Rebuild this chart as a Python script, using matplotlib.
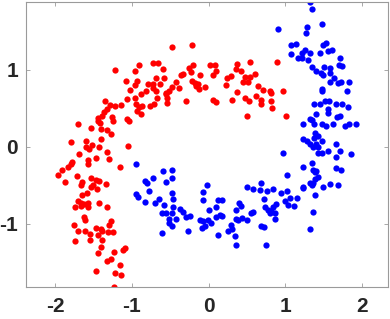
import matplotlib
matplotlib.use("Agg")
import matplotlib.pyplot as plt

# class 1 (red, left/upper moon)
red_x = [-0.72, -0.66, -0.91, -1.22, -0.96, -0.69, -1.08, -0.94, -0.79, -0.72,
         -0.73, -0.68, -0.96, -1.03, -0.82, -0.88, -0.67, -1.07, -0.96, -0.71,
         -0.77, -0.87, -1.35, -0.95, -0.91, -0.94, -1.14, -1.22, -1.29, -1.33,
         -1.37, -1.39, -1.44, -1.26, -1.25, -1.07, -1.04, -0.88, -1.44, -1.42,
         -1.71, -1.54, -1.41, -1.33, -1.28, -1.41, -1.80, -1.60, -1.52, -1.60,
         -1.56, -1.43, -1.05,
         -1.32, -1.69, -1.57, -1.47, -1.30, -1.78, -1.80, -1.57, -1.91, -1.84,
         -1.97, -1.72, -1.87, -1.65, -1.67, -1.53, -1.47, -1.43, -1.51, -1.54,
         -1.46, -1.34, -1.16, -1.59, -1.65, -1.70, -1.66, -1.63, -1.57, -1.58,
         -1.67, -1.75, -1.43, -1.32, -1.63, -1.62, -1.76, -1.71, -1.61, -1.55,
         -1.47, -1.41, -1.44, -1.39, -1.31, -1.27, -1.30, -1.25, -1.74, -1.55,
         -1.39, -1.41, -1.44, -1.23, -1.12, -1.09, -1.28, -1.32, -1.15, -1.47,
         -1.22, -1.14, -1.23,
         -0.48, -0.22, -0.59, -0.58, -0.64, -0.33, -0.36, -0.25, -0.20, -0.23,
         -0.11, -0.22, -0.18, -0.14, -0.13, -0.16, -0.42, -0.48, -0.52, -0.56,
         -0.55, -0.38, -0.54, -0.54, -0.29, -0.04, 0.02, 0.09, 0.10, 0.06,
         0.06, 0.10, 0.24, 0.29, 0.23, 0.37, 0.36, 0.43, 0.54, 0.47,
         0.54, 0.45, 0.52, 0.61, 0.37, 0.31, 0.48, 0.53, 0.65, 0.62,
         0.50,
         0.89, 0.71, 0.80, 0.82, 0.97, 0.68, 0.81, 0.69, 0.83, 1.01]
red_y = [1.09, 1.09, 1.06, 1.00, 0.99, 0.90, 0.86, 0.86, 0.82, 0.82,
         0.76, 0.72, 0.80, 0.74, 0.73, 0.69, 0.63, 0.62, 0.63, 0.56,
         0.53, 0.53, 0.60, 0.56, 0.52, 0.47, 0.54, 0.53, 0.54, 0.49,
         0.45, 0.40, 0.38, 0.39, 0.34, 0.36, 0.33, 0.43, 0.33, 0.31,
         0.30, 0.24, 0.23, 0.22, 0.17, 0.10, 0.06, 0.08, 0.02, 0.00,
         -0.03, -0.01, 0.01,
         -0.07, -0.10, -0.17, -0.15, -0.16, -0.20, -0.23, -0.23, -0.30, -0.26,
         -0.37, -0.38, -0.46, -0.46, -0.50, -0.41, -0.43, -0.45, -0.50, -0.52,
         -0.55, -0.48, -0.27, -0.60, -0.63, -0.71, -0.73, -0.75, -0.73, -0.79,
         -0.77, -0.79, -0.73, -0.79, -0.91, -0.96, -1.02, -1.10, -1.10, -1.13,
         -1.06, -1.07, -1.15, -1.10, -1.11, -0.97, -1.02, -1.11, -1.23, -1.22,
         -1.22, -1.31, -1.39, -1.37, -1.34, -1.32, -1.46, -1.49, -1.54, -1.62,
         -1.64, -1.67, -1.83,
         1.30, 1.32, 1.01, 0.90, 0.82, 0.95, 0.93, 1.03, 1.06, 0.97,
         0.94, 0.85, 0.83, 0.81, 0.75, 0.79, 0.84, 0.78, 0.73, 0.70,
         0.68, 0.76, 0.64, 0.57, 0.59, 0.78, 1.07, 1.06, 0.98, 0.93,
         0.61, 0.58, 0.90, 0.92, 0.80, 1.08, 1.01, 0.99, 1.10, 0.91,
         0.91, 0.84, 0.84, 0.95, 0.71, 0.61, 0.63, 0.59, 0.79, 0.66,
         0.40,
         1.10, 0.74, 0.73, 0.70, 0.72, 0.61, 0.60, 0.55, 0.51, 0.40]

# class 2 (blue, right/lower moon)
blue_x = [-0.95, -0.83, -0.81, -0.72, -0.78, -0.95, -0.92, -0.83, -0.70, -0.65,
          -0.60, -0.48, -0.56, -0.48, -0.48, -0.46, -0.58, -0.46, -0.61, -0.55,
          -0.48, -0.51, -0.52, -0.48, -0.42, -0.37, -0.33, -0.30, -0.24, -0.61,
          -0.27, -0.11, -0.07, -0.08, -0.04, -0.07, -0.02, -0.07, 0.00, 0.10,
          0.13, 0.17, -0.01, 0.03, 0.10, 0.15, 0.18, 0.13, 0.25, 0.31,
          0.30, 0.35, 0.36, 0.36, 0.40, 0.42, 0.36, 0.39, 0.44, 0.50,
          0.50, 0.58, 0.58, 0.56,
          1.32, 1.35, 0.91, 1.29, 1.27, 1.48, 1.14, 1.08, 1.08, 1.26,
          1.22, 1.32, 1.17, 1.22, 1.30, 1.45, 1.50, 1.53, 1.56, 1.61,
          1.72, 1.35, 1.40, 1.47, 1.49, 1.51, 1.59, 1.59, 1.74, 1.71,
          1.64, 1.59, 1.69, 1.73, 1.84, 1.48, 1.48, 1.81, 1.38, 1.45,
          1.52, 1.58, 1.75, 1.67, 1.82, 1.41, 1.56, 1.56, 1.68, 1.72,
          1.32, 1.35, 1.23, 1.38, 1.48, 1.54, 1.63, 1.78, 1.84, 1.93,
          1.23, 1.28, 1.38, 1.39, 1.43, 1.48, 1.32, 1.37, 1.40, 1.43,
          1.43, 1.48, 1.56, 1.66, 1.72, 1.67, 1.86, 0.97, 1.23, 1.35,
          1.37, 1.39, 1.41, 1.43, 1.39, 1.32, 1.36, 1.35, 1.24, 1.23,
          1.49, 1.59, 1.69, 1.67, 1.73, 1.02, 1.39, 0.69, 0.76, 0.67,
          0.84, 0.95, 1.03, 0.73, 1.00, 1.06, 1.15, 1.04, 1.12, 0.74,
          0.78, 0.81, 0.84, 0.88, 0.80, 0.87, 0.87, 1.36, 0.69, 0.72,
          1.32, 0.75]
blue_y = [-0.23, -0.45, -0.47, -0.41, -0.58, -0.62, -0.66, -0.72, -0.73, -0.68,
          -0.32, -0.30, -0.46, -0.41, -0.60, -0.68, -0.76, -0.79, -0.86, -0.86,
          -0.86, -0.94, -0.99, -1.03, -0.94, -0.81, -0.85, -0.92, -0.90, -1.12,
          -1.10, -0.95, -0.97, -1.06, -1.03, -0.59, -0.50, -0.70, -0.83, -0.78,
          -0.70, -0.69, -0.95, -0.99, -0.92, -0.89, -0.90, -1.15, -1.10, -1.07,
          -1.02, -1.16, -1.28, -0.82, -0.73, -0.77, -0.94, -0.96, -0.93, -0.96,
          -0.53, -0.55, -0.85, -0.86,
          1.88, 1.79, 1.53, 1.56, 1.48, 1.60, 1.34, 1.32, 1.21, 1.26,
          1.22, 1.22, 1.16, 1.16, 1.13, 1.22, 1.33, 1.35, 1.24, 1.26,
          1.16, 1.04, 0.98, 0.96, 0.94, 1.04, 1.03, 0.96, 1.05, 1.06,
          0.89, 0.84, 0.83, 0.84, 0.84, 0.75, 0.73, 0.73, 0.56, 0.56,
          0.59, 0.59, 0.56, 0.55, 0.52, 0.43, 0.49, 0.44, 0.39, 0.40,
          0.36, 0.35, 0.29, 0.29, 0.29, 0.27, 0.30, 0.27, 0.29, 0.30,
          0.10, 0.08, 0.11, 0.18, 0.14, 0.08, 0.03, 0.00, 0.04, 0.00,
          -0.08, -0.08, -0.06, 0.04, -0.05, -0.13, -0.09, -0.08, -0.26, -0.21,
          -0.30, -0.33, -0.32, -0.40, -0.42, -0.47, -0.47, -0.50, -0.52, -0.54,
          -0.52, -0.48, -0.50, -0.28, -0.30, -0.37, -0.63, -0.47, -0.57, -0.56,
          -0.55, -0.60, -0.57, -0.68, -0.71, -0.67, -0.67, -0.76, -0.77, -0.79,
          -0.82, -0.84, -0.78, -0.74, -0.86, -0.86, -0.94, -0.85, -1.03, -1.05,
          -1.07, -1.28]

x_ticks = [-2, -1, 0, 1, 2]
y_ticks = [-1, 0, 1]

plt.rcParams["font.family"] = ["Liberation Sans", "DejaVu Sans"]
plt.rcParams["axes.unicode_minus"] = False

fig = plt.figure(figsize=(3.9, 3.19), dpi=100)
ax = fig.add_axes([0.0675, 0.0994, 0.9265, 0.8934])

ax.plot(red_x, red_y, "o", color="#ff0000", markersize=4.5, markeredgewidth=0)
ax.plot(blue_x, blue_y, "o", color="#0000ff", markersize=4.5, markeredgewidth=0)

ax.set_xlim(-2.38, 2.34)
ax.set_ylim(min(red_y + blue_y), max(red_y + blue_y))
ax.set_xticks(x_ticks)
ax.set_yticks(y_ticks)
ax.set_xticklabels([str(t) for t in x_ticks])
ax.set_yticklabels([str(t) for t in y_ticks])

for s in ax.spines.values():
    s.set_color("#9a9a9a")
    s.set_linewidth(0.8)
ax.tick_params(direction="in", length=3, width=0.6, color="#9a9a9a",
               top=True, right=True, labelsize=15, labelcolor="#262626")
ax.tick_params(axis="x", pad=7)
ax.tick_params(axis="y", pad=6)
for lab in ax.get_xticklabels() + ax.get_yticklabels():
    lab.set_fontweight("bold")

fig.savefig("out.png", dpi=100)
